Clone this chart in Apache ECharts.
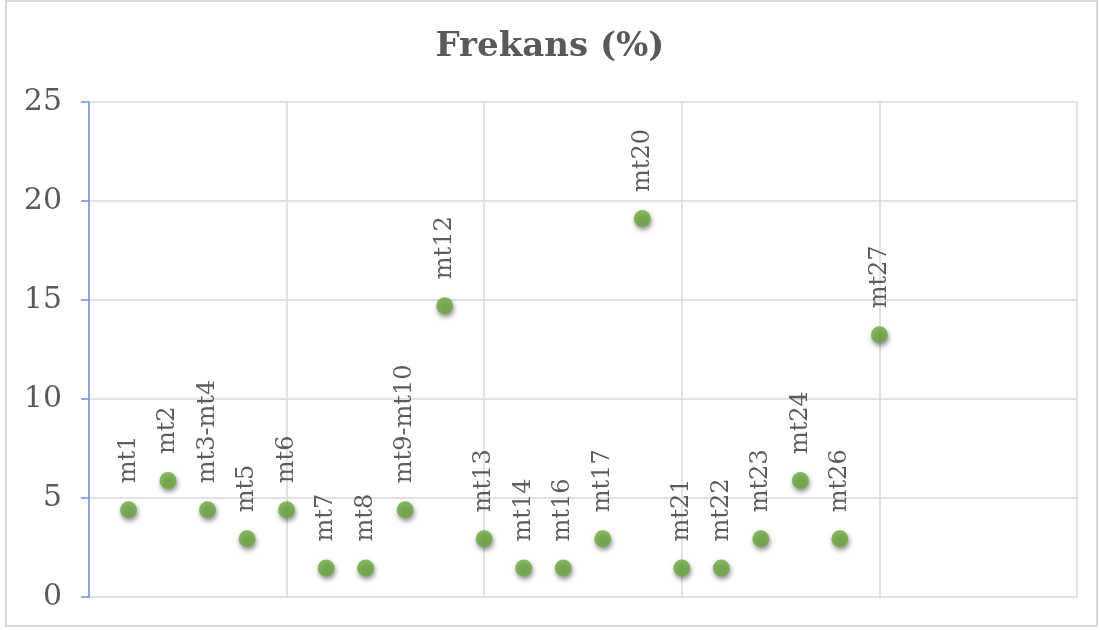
<!DOCTYPE html>
<html>
<head>
<meta charset="utf-8">
<script src="https://cdn.jsdelivr.net/npm/echarts@6/dist/echarts.min.js"></script>
<style>html,body{margin:0;padding:0;background:#fff}#c{width:1100px;height:630px}</style>
</head>
<body>
<div id="c"></div>
<script>
var labels = ['mt1','mt2','mt3-mt4','mt5','mt6','mt7','mt8','mt9-mt10','mt12','mt13','mt14','mt16','mt17','mt20','mt21','mt22','mt23','mt24','mt26','mt27'];
var xValues = [1,2,3,4,5,6,7,8,9,10,11,12,13,14,15,16,17,18,19,20];
var yValues = [4.41,5.88,4.41,2.94,4.41,1.47,1.47,4.41,14.71,2.94,1.47,1.47,2.94,19.12,1.47,1.47,2.94,5.88,2.94,13.24];
var yTicks = [0,5,10,15,20,25];

var data = xValues.map(function(x,i){return {value:[x,yValues[i]], name:labels[i]};});
var serif = '"DejaVu Serif", "Liberation Serif", serif';
var chart = echarts.init(document.getElementById('c'));
chart.setOption({
  animation:false,
  backgroundColor:'#fff',
  graphic:[{type:'rect', shape:{x:6,y:1,width:1091,height:625}, style:{fill:'none', stroke:'#d9d9d9', lineWidth:2}, z:-1}],
  title:{text:'Frekans (%)', left:'center', top:25, textStyle:{fontFamily:serif, fontSize:34, fontWeight:'bold', color:'#595959'}},
  grid:{left:89, right:23, top:102, bottom:33},
  xAxis:{type:'value', min:0, max:25, interval:5, axisLabel:{show:false}, axisTick:{show:false}, axisLine:{show:false},
    splitLine:{show:true, lineStyle:{color:'#d9d9d9', width:1.5}}},
  yAxis:{type:'value', min:yTicks[0], max:yTicks[yTicks.length-1], interval:5,
    axisLine:{show:true, lineStyle:{color:'#6E94D8', width:1.5}},
    axisTick:{show:true, length:8, lineStyle:{color:'#6E94D8', width:1.5}},
    axisLabel:{margin:27, fontFamily:serif, fontSize:30, color:'#595959'},
    splitLine:{show:true, lineStyle:{color:'#d9d9d9', width:1.5}}},
  series:[{type:'scatter', data:data, symbolSize:17,
    itemStyle:{color:'#6BAA3F', shadowBlur:5, shadowOffsetY:3, shadowOffsetX:1, shadowColor:'rgba(0,0,0,0.55)'},
    label:{show:true, position:'top', distance:13, rotate:90, align:'left', verticalAlign:'middle', offset:[5,0],
      formatter:function(p){return p.name;}, fontFamily:serif, fontSize:24, color:'#333333'}}]
});
</script>
</body>
</html>
